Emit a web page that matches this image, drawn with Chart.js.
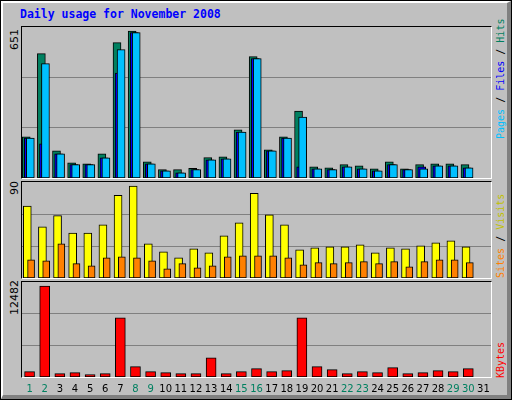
<!DOCTYPE html>
<html>
<head>
<meta charset="utf-8">
<script src="https://cdn.jsdelivr.net/npm/chart.js@4"></script>
<style>
  body { margin: 0; }
  #frame { position: relative; width: 512px; height: 400px; background: #C0C0C0; box-sizing: border-box;
           border: 1px solid #000; overflow: hidden; }
  #inner { position: absolute; left: 0; top: 0; right: 0; bottom: 0; border-left: 2px solid #fff; border-top: 2px solid #fff;
           border-right: 4px solid #808080; border-bottom: 4px solid #808080; }
  .panel { position: absolute; left: 20px; width: 469px; border-top: 1px solid #000; border-left: 1px solid #000;
           border-right: 1px solid #fff; border-bottom: 1px solid #fff; }
  canvas { position: absolute; left: 21px; }
  .rot { position: absolute; transform-origin: 0 0; transform: rotate(-90deg); white-space: nowrap; }
  .side { font: 10px "DejaVu Sans Mono", monospace; }
  .max { font: 11px "DejaVu Sans", sans-serif; }
  #title { position: absolute; left: 19px; top: 6px; font: bold 11.5px "DejaVu Sans Mono", monospace; color: #0000FF; }
</style>
</head>
<body>
<div id="frame">
  <div id="inner"></div>
  <div id="title">Daily usage for November 2008</div>
  <div class="panel" style="top:25px;height:151px"></div>
  <div class="panel" style="top:180px;height:96px"></div>
  <div class="panel" style="top:280px;height:95px"></div>
  <canvas id="c1" style="top:26px" width="469" height="151"></canvas>
  <canvas id="c2" style="top:181px" width="469" height="96"></canvas>
  <canvas id="c3" style="top:281px" width="469" height="119"></canvas>
  <div class="rot max" style="left:7px;top:49px">651</div>
  <div class="rot max" style="left:7px;top:194px">90</div>
  <div class="rot max" style="left:7px;top:314px">12482</div>
  <div class="rot side" style="left:494px;top:138px"><span style="color:#00C0FF">Pages</span> / <span style="color:#0000FF">Files</span> / <span style="color:#008060">Hits</span></div>
  <div class="rot side" style="left:494px;top:277px"><span style="color:#FF8000">Sites</span> / <span style="color:#C0C000">Visits</span></div>
  <div class="rot side" style="left:494px;top:377px"><span style="color:#FF0000">KBytes</span></div>
</div>
<script>
const days = Array.from({ length: 31 }, (_, i) => i + 1);
const weekend = [1, 2, 8, 9, 15, 16, 22, 23, 29, 30];

const hits  = [182, 551, 120, 67, 63, 107, 600, 651, 72, 37, 37, 43, 90, 94, 213, 538, 125, 182, 296, 50, 45, 59, 54, 41, 72, 41, 59, 63, 63, 59, 0];
const files = [177, 151, 107, 59, 59, 89, 465, 644, 63, 32, 23, 37, 81, 85, 204, 529, 120, 177, 50, 41, 37, 50, 41, 32, 59, 37, 50, 54, 54, 45, 0];
const pages = [177, 507, 107, 59, 59, 89, 569, 644, 63, 32, 23, 37, 81, 85, 204, 529, 120, 177, 270, 41, 37, 50, 41, 32, 59, 37, 41, 54, 54, 45, 0];

const visits = [70.5, 50, 61, 44, 44, 52, 81, 90, 33.5, 25.7, 19.8, 28.6, 24.7, 41.3, 54, 83, 61.8, 52, 27.6, 29.6, 30.5, 30.5, 32.5, 24.7, 29.6, 28.6, 31.5, 34.5, 36.4, 30.5, 0];
const sites  = [17.9, 16.9, 33.5, 14, 12, 19.8, 20.8, 19.8, 16.9, 9.1, 14, 10, 12, 20.8, 21.8, 21.8, 21.8, 19.8, 13, 15, 14, 15, 16, 14, 16, 11, 16, 17.9, 17.9, 15, 0];

const kbytes = [730, 12482, 456, 593, 319, 456, 8117, 1414, 730, 593, 456, 456, 2645, 456, 730, 1140, 730, 866, 8117, 1414, 1003, 456, 730, 593, 1277, 456, 593, 866, 730, 1140, 0];

function series(values, shift, color, width) {
    return {
        data: values.map((v, i) => ({ x: days[i] + shift, y: v })).filter(p => p.y > 0),
        backgroundColor: color, borderColor: '#000', borderWidth: 1,
        barThickness: width, grouped: false, borderSkipped: false
    };
}

function makeChart(id, datasets, max, bottomPad, labels) {
    return new Chart(document.getElementById(id), {
        type: 'bar',
        data: { datasets },
        options: {
            responsive: false, animation: false,
            layout: { padding: { left: 0, right: 0, top: 0, bottom: bottomPad } },
            plugins: { legend: { display: false }, tooltip: { enabled: false } },
            scales: {
                x: { type: 'linear', min: 0.6, max: 31.6, offset: false, display: false },
                y: {
                    min: 0, max: max,
                    afterBuildTicks: axis => { axis.ticks = [max / 3, 2 * max / 3].map(v => ({ value: v })); },
                    ticks: { display: false },
                    border: { display: false },
                    grid: { color: '#808080', drawTicks: false, lineWidth: 1 }
                }
            }
        },
        plugins: labels ? [{
            id: 'dayLabels',
            afterDraw(chart) {
                const ctx = chart.ctx, xs = chart.scales.x;
                ctx.save();
                ctx.font = '10px "DejaVu Sans", sans-serif';
                ctx.textAlign = 'center';
                ctx.textBaseline = 'middle';
                days.forEach(d => {
                    ctx.fillStyle = weekend.includes(d) ? '#008060' : '#000';
                    ctx.fillText(String(d), xs.getPixelForValue(d + 0.1), 107);
                });
                ctx.restore();
            }
        }] : []
    });
}

makeChart('c1', [
    series(pages, 0.15, '#00C0FF', 8),
    series(files, 0.02, '#0000FF', 8),
    series(hits, -0.12, '#008060', 8)
], 669, 0, false);

makeChart('c2', [
    series(sites, 0.2, '#FF8000', 7),
    series(visits, -0.05, '#FFFF00', 8)
], 94, 0, false);

makeChart('c3', [
    series(kbytes, 0.1, '#FF0000', 10)
], 13043, 24, true);
</script>
</body>
</html>
